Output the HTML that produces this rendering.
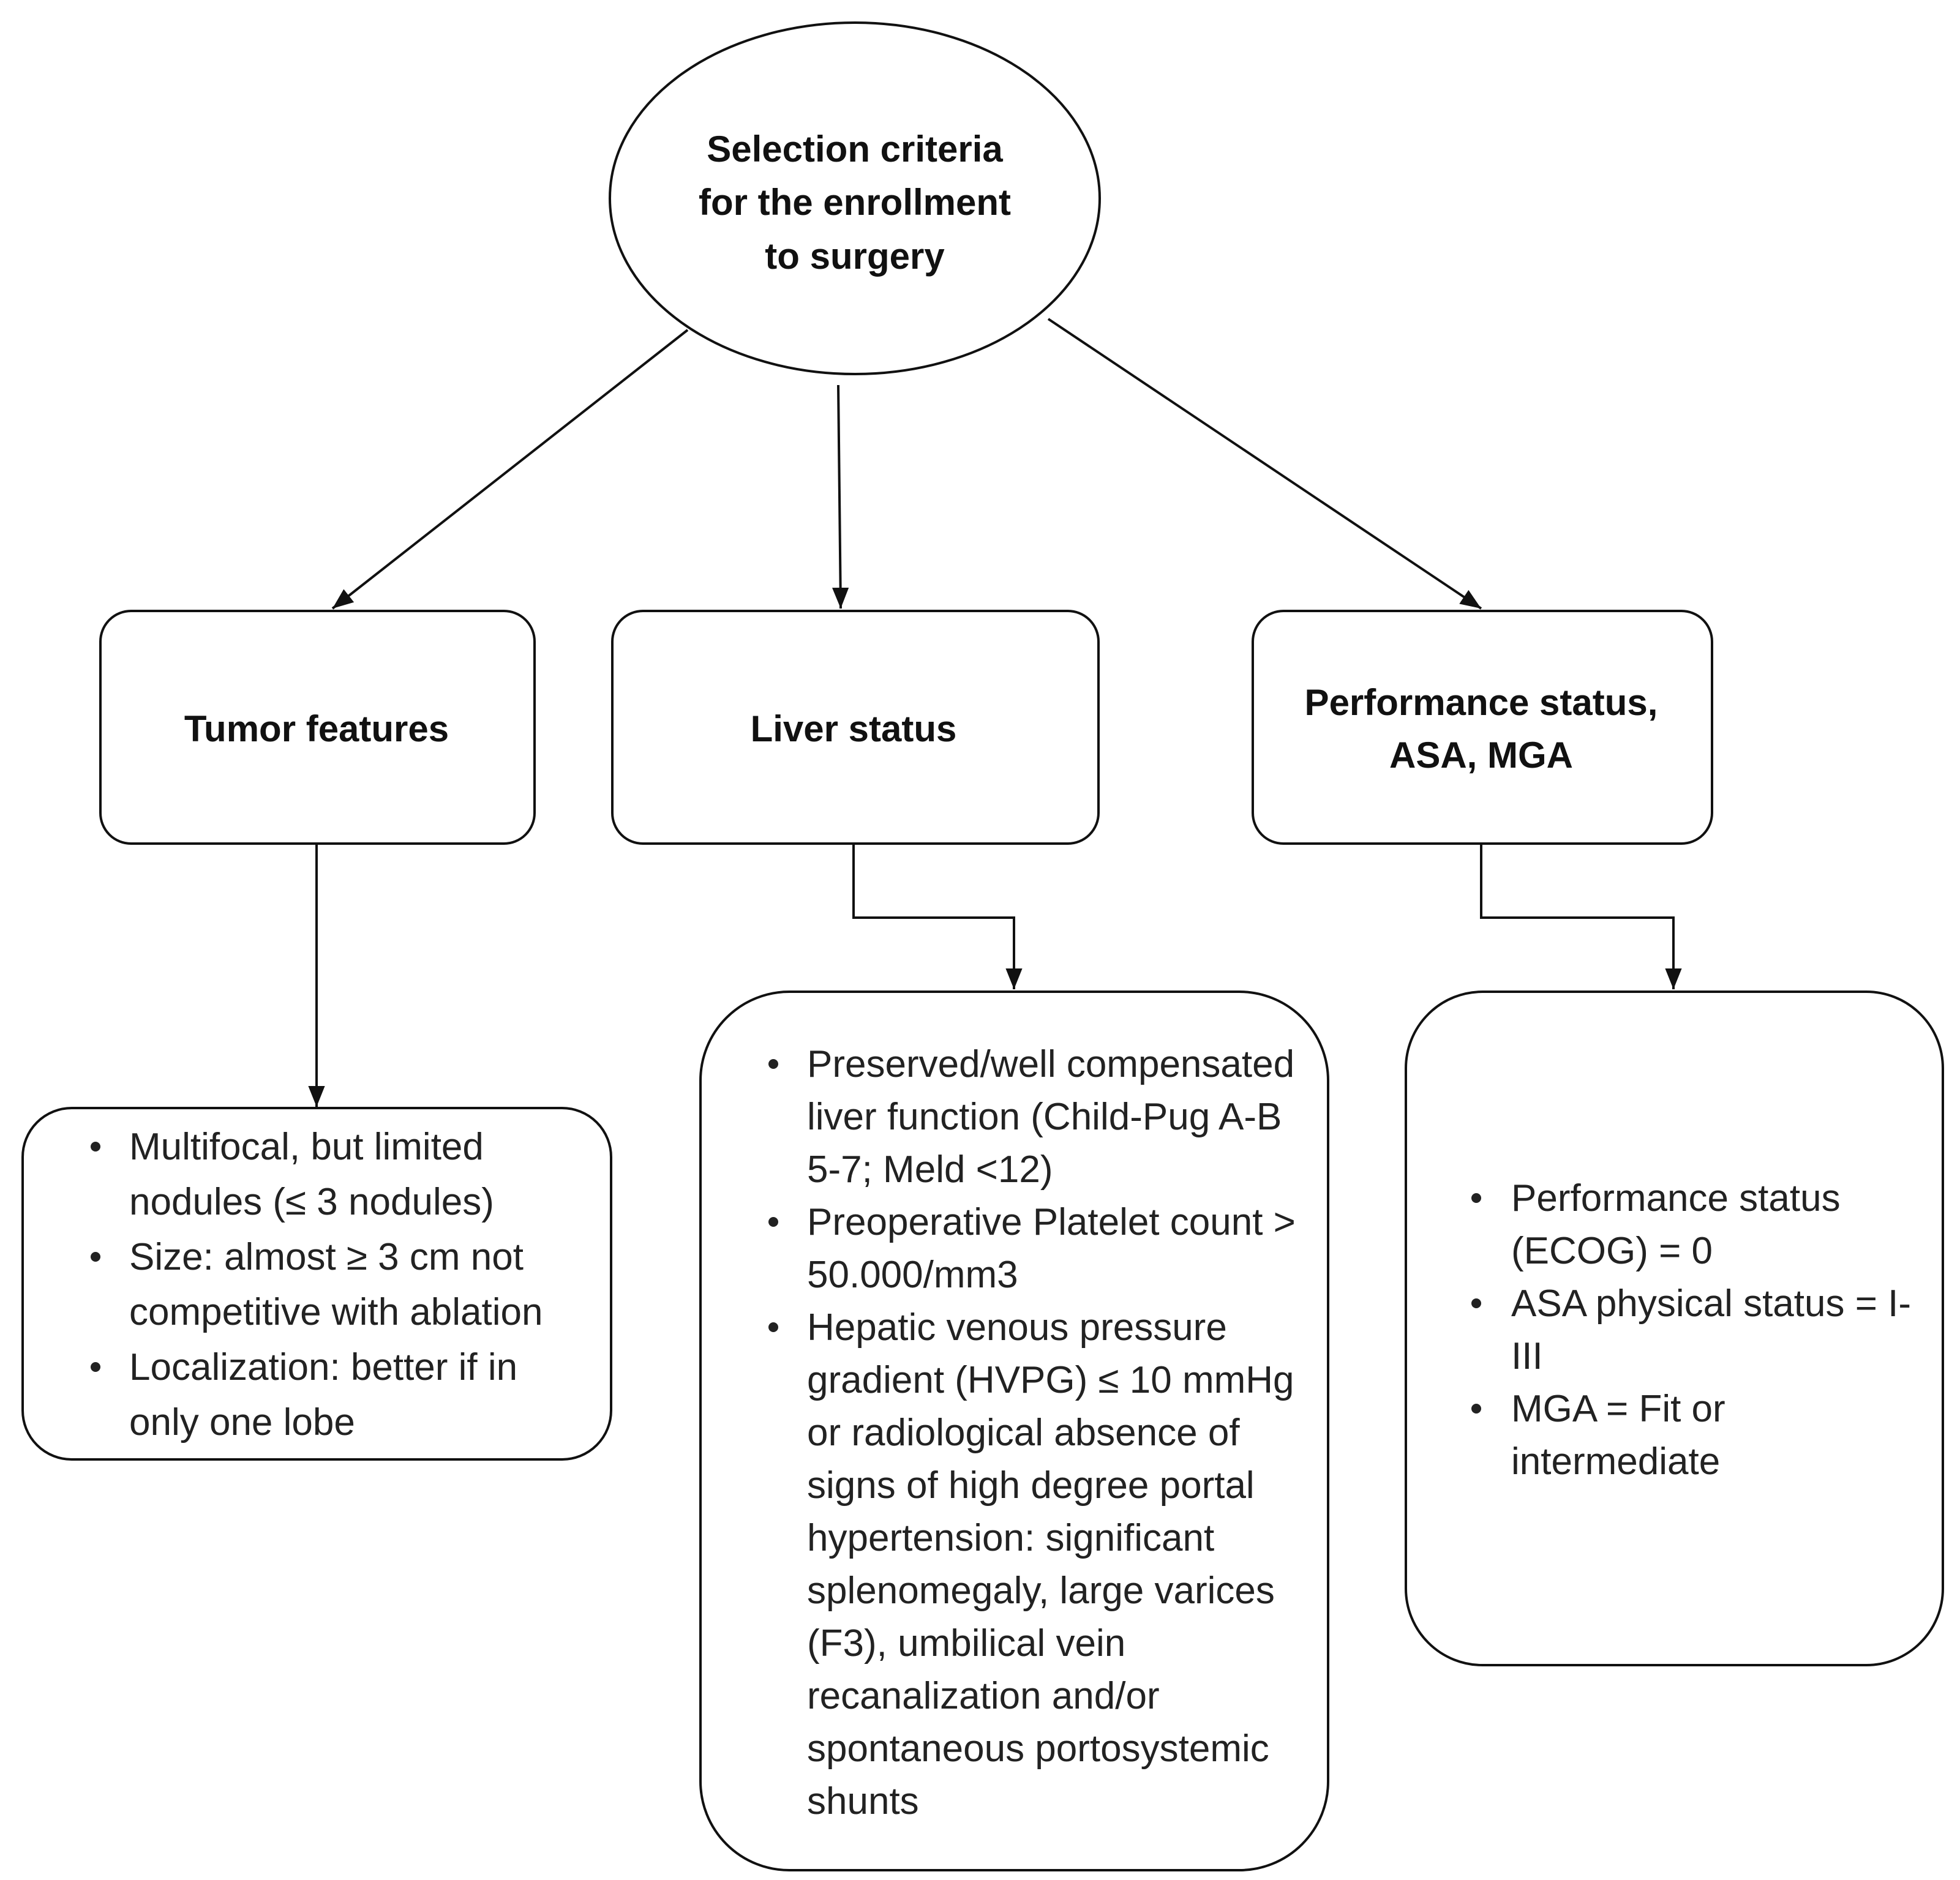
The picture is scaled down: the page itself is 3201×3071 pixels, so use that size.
<!DOCTYPE html>
<html><head><meta charset="utf-8"><style>html,body{margin:0;padding:0;background:#fff}svg{display:block}</style></head>
<body>
<svg width="3201" height="3071" viewBox="0 0 3201 3071" xmlns="http://www.w3.org/2000/svg">
<defs><marker id="a" markerWidth="10" markerHeight="10" refX="9" refY="5" orient="auto" markerUnits="userSpaceOnUse" viewBox="0 0 10 10"><path d="M0,0 L10,5 L0,10 z" fill="#111"/></marker>
<marker id="b" viewBox="0 0 10 10" refX="10" refY="5" markerWidth="34" markerHeight="34" orient="auto" markerUnits="userSpaceOnUse"><path d="M0,1 L10,5 L0,9 z" fill="#111"/></marker></defs>
<g fill="none" stroke="#111" stroke-width="4">
<ellipse cx="1396" cy="324" rx="400" ry="287" fill="#fff"/>
<rect x="164" y="998" width="709" height="380" rx="50" fill="#fff"/>
<rect x="1000" y="998" width="794" height="380" rx="50" fill="#fff"/>
<rect x="2046" y="998" width="750" height="380" rx="50" fill="#fff"/>
<rect x="37" y="1810" width="961" height="574" rx="80" fill="#fff"/>
<rect x="1144" y="1620" width="1025" height="1435" rx="145" fill="#fff"/>
<rect x="2296" y="1620" width="877" height="1100" rx="125" fill="#fff"/>
<line x1="1123" y1="539" x2="543" y2="994" marker-end="url(#b)"/>
<line x1="1369" y1="629" x2="1373" y2="994" marker-end="url(#b)"/>
<line x1="1712" y1="521" x2="2419" y2="994" marker-end="url(#b)"/>
<line x1="517" y1="1378" x2="517" y2="1808" marker-end="url(#b)"/>
<polyline points="1394,1378 1394,1499 1656,1499 1656,1616" marker-end="url(#b)"/>
<polyline points="2419,1378 2419,1499 2733,1499 2733,1616" marker-end="url(#b)"/>
</g>
<g font-family="Liberation Sans, sans-serif" font-weight="bold" font-size="60" fill="#111" text-anchor="middle">
<text x="1396" y="264">Selection criteria</text>
<text x="1396" y="351">for the enrollment</text>
<text x="1396" y="439">to surgery</text>
<text x="517" y="1211">Tumor features</text>
<text x="1394" y="1211">Liver status</text>
<text x="2419" y="1168">Performance status,</text>
<text x="2419" y="1254">ASA, MGA</text>
</g>
<g font-family="Liberation Sans, sans-serif" font-size="62" fill="#222">
<g>
<text x="211" y="1894">Multifocal, but limited</text>
<text x="211" y="1984">nodules (≤ 3 nodules)</text>
<text x="211" y="2074">Size: almost ≥ 3 cm not</text>
<text x="211" y="2164">competitive with ablation</text>
<text x="211" y="2254">Localization: better if in</text>
<text x="211" y="2344">only one lobe</text>
<circle cx="156" cy="1873" r="8"/><circle cx="156" cy="2053" r="8"/><circle cx="156" cy="2233" r="8"/>
</g>
<g>
<text x="1318" y="1759">Preserved/well compensated</text>
<text x="1318" y="1845">liver function (Child-Pug A-B</text>
<text x="1318" y="1931">5-7; Meld &lt;12)</text>
<text x="1318" y="2017">Preoperative Platelet count &gt;</text>
<text x="1318" y="2103">50.000/mm3</text>
<text x="1318" y="2189">Hepatic venous pressure</text>
<text x="1318" y="2275">gradient (HVPG) ≤ 10 mmHg</text>
<text x="1318" y="2361">or radiological absence of</text>
<text x="1318" y="2447">signs of high degree portal</text>
<text x="1318" y="2533">hypertension: significant</text>
<text x="1318" y="2619">splenomegaly, large varices</text>
<text x="1318" y="2705">(F3), umbilical vein</text>
<text x="1318" y="2791">recanalization and/or</text>
<text x="1318" y="2877">spontaneous portosystemic</text>
<text x="1318" y="2963">shunts</text>
<circle cx="1263" cy="1738" r="8"/><circle cx="1263" cy="1996" r="8"/><circle cx="1263" cy="2168" r="8"/>
</g>
<g>
<text x="2468" y="1978">Performance status</text>
<text x="2468" y="2064">(ECOG) = 0</text>
<text x="2468" y="2150">ASA physical status = I-</text>
<text x="2468" y="2236">III</text>
<text x="2468" y="2322">MGA = Fit or</text>
<text x="2468" y="2408">intermediate</text>
<circle cx="2411" cy="1957" r="8"/><circle cx="2411" cy="2129" r="8"/><circle cx="2411" cy="2301" r="8"/>
</g>
</g>
</svg>
</body></html>
